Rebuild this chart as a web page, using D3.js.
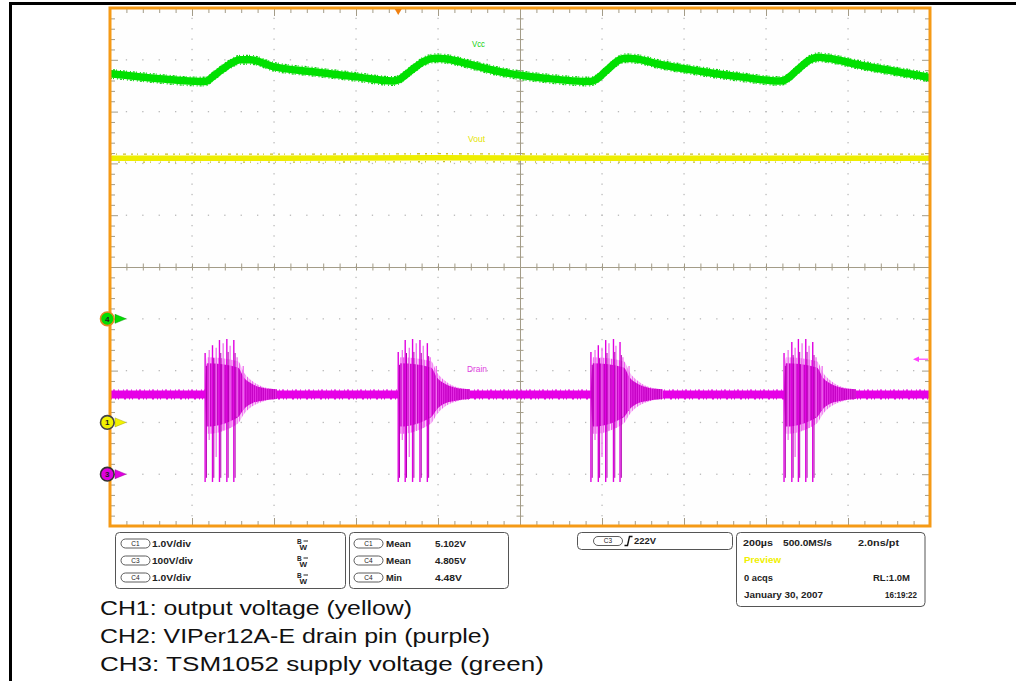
<!DOCTYPE html>
<html><head><meta charset="utf-8">
<script src="https://cdn.jsdelivr.net/npm/d3@7"></script>
<style>body{margin:0;background:#fff}svg{display:block}text{font-family:"Liberation Sans",Arial,sans-serif}</style>
</head><body><svg id="c" width="1016" height="681"></svg>
<script>
// ---------------- DATA ----------------
// time in microseconds across the 10-division screen (200 us/div)
const vccTime  = [0,100,220,232,256,293,317,342,398,495,602,690,702,732,768,793,817,878,951,1066,1171,1183,1212,1239,1256,1281,1342,1439,1537,1634,1646,1676,1707,1727,1751,1829,1927,1995,2000];
const vccVolts = [4.73,4.65,4.58,4.58,4.71,4.92,5.00,5.00,4.87,4.77,4.67,4.59,4.61,4.78,4.98,5.03,5.02,4.91,4.77,4.64,4.58,4.61,4.80,4.98,5.03,5.02,4.91,4.78,4.67,4.59,4.61,4.80,5.00,5.05,5.03,4.90,4.76,4.66,4.65];
const voutTime  = [0,400,800,1200,1600,2000];
const voutVolts = [5.10,5.10,5.11,5.10,5.10,5.10];
const drainBaseTime  = [0,2000];
const drainBaseVolts = [154,154];
// drain bursts: main switching spikes (absolute time, top volts, bottom volts)
const spikeTimes = [[232,250,267,285,302],[703,720,738,756,774],[1173,1191,1209,1228,1244],[1644,1663,1679,1697,1714]];
const spikeTops  = [[234,249,259,261,259],[236,259,261,259,253],[236,249,259,261,255],[234,255,261,261,255]];
const spikeBottom = -15;
// ringing envelope after each burst start (relative time, top/bottom volts)
const ringTime   = [0,5,80,95,115,140,175];
const ringTop    = [160,214,206,186,174,167,164];
const ringBottom = [150,92,110,126,137,142,145];
const ringOuterTop    = [160,226,218,196,180,169,164];
const ringOuterBottom = [150,78,98,116,131,140,145];
// lighter secondary spikes inside each burst (relative time)
const subTime   = [10,27,44,61,78,93];
const subTop    = [240,244,253,248,226,209];
const subBottom = [66,33,85,89,111,124];
const triggerTime = 703, triggerLevel = 222;
// channel settings: name, ground position (div), volts/div
const chNames = ["1","3","4"];
const chPos   = [-3,-4,-1];
const chVdiv  = [1.0,100,1.0];
// readouts
const scaleLabels = ["C1","C3","C4"], scaleTexts = ["1.0V/div","100V/div","1.0V/div"];
const measCh = ["C1","C4","C4"], measName = ["Mean","Mean","Min"], measVal = ["5.102V","4.805V","4.48V"];
const captions = ["CH1: output voltage (yellow)","CH2: VIPer12A-E drain pin (purple)","CH3: TSM1052 supply voltage (green)"];

// ---------------- SCALES ----------------
const svg = d3.select('#c');
const PX0=110, PX1=930, PY0=8, PY1=526;
const x = d3.scaleLinear().domain([0,2000]).range([PX0,PX1]);
const yDiv = d3.scaleLinear().domain([-5,5]).range([PY1,PY0]);
const chY = i => v => yDiv(chPos[i] + v/chVdiv[i]);
const yC1 = chY(0), yC3 = chY(1), yC4 = chY(2);

// stripe pattern for dense ringing
const defs = svg.append('defs');
const pat = defs.append('pattern').attr('id','ring').attr('width',2.2).attr('height',10).attr('patternUnits','userSpaceOnUse');
pat.append('rect').attr('width',2.2).attr('height',10).attr('fill','#c400c4');
pat.append('rect').attr('width',0.9).attr('height',10).attr('fill','#e830e8');
const pat2 = defs.append('pattern').attr('id','ringO').attr('width',2.6).attr('height',10).attr('patternUnits','userSpaceOnUse');
pat2.append('rect').attr('width',2.6).attr('height',10).attr('fill','#fbe0fb');
pat2.append('rect').attr('width',1.1).attr('height',10).attr('fill','#ee55ee');

// outer frame (cropped table border)
svg.append('rect').attr('x',9).attr('y',2).attr('width',1007).attr('height',3).attr('fill','#000');
svg.append('rect').attr('x',9).attr('y',2).attr('width',3).attr('height',679).attr('fill','#000');

// plot background
svg.append('rect').attr('x',PX0).attr('y',PY0).attr('width',PX1-PX0).attr('height',PY1-PY0).attr('fill','#fefefe');

// ---------------- GRID ----------------
const gridCol = '#b9b9b9', tickCol = '#a39c88';
const dots = [];
d3.range(200,2000,200).filter(t=>t!==1000).forEach(t=>d3.range(-4.8,4.81,0.2).forEach(d=>dots.push([x(t),yDiv(d)])));
d3.range(-4,4.01,1).filter(d=>d!==0).forEach(d=>d3.range(40,1961,40).forEach(t=>dots.push([x(t),yDiv(d)])));
svg.append('g').selectAll('rect').data(dots).join('rect')
  .attr('x',d=>d[0]-0.6).attr('y',d=>d[1]-0.6).attr('width',1.3).attr('height',1.3).attr('fill',gridCol);

const tMinor = d3.range(0,2000.1,40), dMinor = d3.range(-5,5.001,0.2);
function styleAxis(g){ g.selectAll('.domain').attr('stroke',tickCol).attr('stroke-width',1); g.selectAll('line').attr('stroke',tickCol); g.selectAll('text').remove(); }
// centre cross
svg.append('g').attr('transform',`translate(0,${yDiv(0)})`).call(d3.axisBottom(x).tickValues(tMinor).tickSize(3.5).tickSizeOuter(0)).call(styleAxis);
svg.append('g').attr('transform',`translate(0,${yDiv(0)})`).call(d3.axisTop(x).tickValues(tMinor).tickSize(3.5).tickSizeOuter(0)).call(styleAxis);
svg.append('g').attr('transform',`translate(${x(1000)},0)`).call(d3.axisLeft(yDiv).tickValues(dMinor).tickSize(3.5).tickSizeOuter(0)).call(styleAxis);
svg.append('g').attr('transform',`translate(${x(1000)},0)`).call(d3.axisRight(yDiv).tickValues(dMinor).tickSize(3.5).tickSizeOuter(0)).call(styleAxis);
// edge ticks
function edge(axis, tr){ svg.append('g').attr('transform',tr).call(axis.tickSizeOuter(0)).call(g=>{g.select('.domain').remove(); g.selectAll('line').attr('stroke',tickCol); g.selectAll('text').remove();}); }
const isMajT = t => Math.abs(t/200-Math.round(t/200))<1e-6, isMajD = d => Math.abs(d-Math.round(d))<1e-6;
edge(d3.axisBottom(x).tickValues(tMinor.filter(t=>!isMajT(t))).tickSize(5), `translate(0,${PY0})`);
edge(d3.axisBottom(x).tickValues(tMinor.filter(isMajT)).tickSize(8), `translate(0,${PY0})`);
edge(d3.axisTop(x).tickValues(tMinor.filter(t=>!isMajT(t))).tickSize(5), `translate(0,${PY1})`);
edge(d3.axisTop(x).tickValues(tMinor.filter(isMajT)).tickSize(8), `translate(0,${PY1})`);
edge(d3.axisRight(yDiv).tickValues(dMinor.filter(d=>!isMajD(d))).tickSize(5), `translate(${PX0},0)`);
edge(d3.axisRight(yDiv).tickValues(dMinor.filter(isMajD)).tickSize(8), `translate(${PX0},0)`);
edge(d3.axisLeft(yDiv).tickValues(dMinor.filter(d=>!isMajD(d))).tickSize(5), `translate(${PX1},0)`);
edge(d3.axisLeft(yDiv).tickValues(dMinor.filter(isMajD)).tickSize(8), `translate(${PX1},0)`);

// ---------------- TRACES ----------------
const zip = (a,b)=>a.map((v,i)=>[v,b[i]]);
const tr = svg.append('g');
function band(pts, yf, col, w, fringeCol, off, dash, curve){
  const ln = d3.line().x(d=>x(d[0])).y(d=>yf(d[1])).curve(curve||d3.curveLinear);
  [-off,off].forEach((o,k)=>tr.append('path').attr('d',ln(pts)).attr('transform',`translate(0,${o})`)
     .attr('fill','none').attr('stroke',fringeCol).attr('stroke-width',1.3).attr('stroke-dasharray',dash[k]));
  tr.append('path').attr('d',ln(pts)).attr('fill','none').attr('stroke',col).attr('stroke-width',w).attr('stroke-linejoin','round');
}
// Vout (yellow)
band(zip(voutTime,voutVolts), yC1, '#eeee00', 5.5, '#c9bd2a', 4, ['2 4 1 6 3 5','1 7 2 5 1 9']);
// Vcc (green)
band(zip(vccTime,vccVolts), yC4, '#00e000', 7.5, '#10d010', 4.3, ['1 2 2 1 1 3','2 1 1 3 1 2'], d3.curveMonotoneX);
// Drain baseline
band(zip(drainBaseTime,drainBaseVolts), yC3, '#e600e6', 8, '#e600e6', 4.3, ['1 2 2 3 1 4','2 3 1 2 1 5']);
// bursts
const ringArea = d3.area().x(d=>x(d[0])).y0(d=>yC3(d[2])).y1(d=>yC3(d[1])).curve(d3.curveMonotoneX);
spikeTimes.forEach((ts,b)=>{
  const t0 = ts[0];
  tr.append('path').attr('d',ringArea(ringTime.map((t,i)=>[t0+t, ringOuterTop[i], ringOuterBottom[i]]))).attr('fill','url(#ringO)');
  tr.append('path').attr('d',ringArea(ringTime.map((t,i)=>[t0+t, ringTop[i], ringBottom[i]]))).attr('fill','url(#ring)');
  subTime.forEach((t,i)=>tr.append('line').attr('x1',x(t0+t)).attr('x2',x(t0+t)).attr('y1',yC3(subTop[i])).attr('y2',yC3(subBottom[i]))
     .attr('stroke','#f070f0').attr('stroke-width',1.3));
  ts.forEach((t,i)=>{
    tr.append('line').attr('x1',x(t)).attr('x2',x(t)).attr('y1',yC3(spikeTops[b][i])).attr('y2',yC3(spikeBottom))
      .attr('stroke','#e000e0').attr('stroke-width',1.4);
    tr.append('line').attr('x1',x(t)+1.3).attr('x2',x(t)+1.3).attr('y1',yC3(spikeTops[b][i]-25)).attr('y2',yC3(spikeBottom+8))
      .attr('stroke','#b000b0').attr('stroke-width',1);
  });
});

// trace labels
svg.append('text').attr('x',472).attr('y',47).attr('font-size',8.5).attr('fill','#10d010').attr('textLength',13).attr('lengthAdjust','spacingAndGlyphs').text('Vcc');
svg.append('text').attr('x',468).attr('y',142).attr('font-size',8.5).attr('fill','#e4e400').attr('textLength',17).attr('lengthAdjust','spacingAndGlyphs').text('Vout');
svg.append('text').attr('x',467).attr('y',372).attr('font-size',8.5).attr('fill','#e040e0').attr('textLength',20).attr('lengthAdjust','spacingAndGlyphs').text('Drain');

// orange screen border
svg.append('rect').attr('x',PX0).attr('y',PY0).attr('width',PX1-PX0).attr('height',PY1-PY0).attr('fill','none').attr('stroke','#f59a16').attr('stroke-width',3);
// trigger position marker
const tx = x(triggerTime);
svg.append('path').attr('d',`M${tx-3.5},${PY0+1}L${tx+3.5},${PY0+1}L${tx},${PY0+7}Z`).attr('fill','#f08010');
// trigger level arrow (C3)
const ty = yC3(triggerLevel);
svg.append('line').attr('x1',PX1-11).attr('x2',PX1-2).attr('y1',ty).attr('y2',ty).attr('stroke','#ff40ff').attr('stroke-width',1.2);
svg.append('path').attr('d',`M${PX1-17},${ty}L${PX1-11},${ty-2.8}L${PX1-11},${ty+2.8}Z`).attr('fill','#ff40ff');

// channel ground markers
const chFill = ['#f2f200','#e000e0','#00dd00'], chStroke = ['#444','#333','#e08a20'];
chNames.forEach((n,i)=>{
  const cy = yDiv(chPos[i]);
  svg.append('path').attr('d',`M115,${cy-4.5}L126,${cy}L115,${cy+4.5}Z`).attr('fill',chFill[i]).attr('stroke',d3.color(chFill[i]).darker(1)).attr('stroke-width',0.5);
  svg.append('circle').attr('cx',107.3).attr('cy',cy).attr('r',6.8).attr('fill',chFill[i]).attr('stroke',chStroke[i]).attr('stroke-width',1.6);
  svg.append('text').attr('x',107.3).attr('y',cy+3).attr('text-anchor','middle').attr('font-size',8).attr('font-weight','bold').attr('fill','#222').text(n);
});

// ---------------- READOUT BOXES ----------------
const rb = svg.append('g');
function box(x0,y0,w,h){ rb.append('rect').attr('x',x0).attr('y',y0).attr('width',w).attr('height',h).attr('rx',4).attr('fill','#fff').attr('stroke','#555').attr('stroke-width',1); }
function pill(cx,cy,label){
  rb.append('rect').attr('x',cx-14.5).attr('y',cy-4.5).attr('width',29).attr('height',9).attr('rx',4.5).attr('fill','#fff').attr('stroke','#333').attr('stroke-width',0.8);
  rb.append('text').attr('x',cx).attr('y',cy+2.4).attr('text-anchor','middle').attr('font-size',6.5).attr('fill','#222').text(label);
}
function bt(x0,y,s,len,col,anchor){ const t=rb.append('text').attr('x',x0).attr('y',y).attr('font-size',9).attr('font-weight','bold').attr('fill',col||'#222').attr('text-anchor',anchor||'start').text(s); if(len) t.attr('textLength',len).attr('lengthAdjust','spacingAndGlyphs'); return t; }
const rowY = [543.5,560.5,577.5];
box(115.5,532.5,230,56);
scaleLabels.forEach((c,i)=>{
  pill(135.5,rowY[i],c); bt(152,rowY[i]+3.2,scaleTexts[i], scaleTexts[i]==='100V/div'?41:39);
  rb.append('text').attr('x',297).attr('y',rowY[i]+0.5).attr('font-size',6.5).attr('font-weight','bold').attr('fill','#222').text('B');
  rb.append('text').attr('x',299.5).attr('y',rowY[i]+6.5).attr('font-size',8).attr('font-weight','bold').attr('fill','#222').text('W');
  rb.append('line').attr('x1',303.5).attr('x2',308).attr('y1',rowY[i]-2.5).attr('y2',rowY[i]-2.5).attr('stroke','#222').attr('stroke-width',1);
});
box(349.5,532.5,159,56);
measCh.forEach((c,i)=>{
  pill(368.5,rowY[i],c); bt(386,rowY[i]+3.2,measName[i], measName[i]==='Min'?16:25); bt(435,rowY[i]+3.2,measVal[i], measVal[i].length===5?27:31);
});
box(577.5,532.5,155,17);
pill(608,541,'C3');
rb.append('path').attr('d','M624.5,545.5L627.5,545.5L629.5,536.5L632.5,536.5').attr('fill','none').attr('stroke','#111').attr('stroke-width',1.4);
bt(634,544.3,'222V',22);
box(736.5,532.5,188.5,74);
const r4 = [542.5,560,577.5,595];
bt(743,r4[0]+3.2,'200µs',30); bt(783,r4[0]+3.2,'500.0MS/s',49); bt(858,r4[0]+3.2,'2.0ns/pt',41);
bt(744,r4[1]+3.2,'Preview',37,'#f0f000');
bt(744,r4[2]+3.2,'0 acqs',29); bt(873,r4[2]+3.2,'RL:1.0M',37);
bt(744,r4[3]+3.2,'January 30, 2007',79); bt(885,r4[3]+3.2,'16:19:22',32);

// ---------------- CAPTIONS ----------------
const capLen = [312,390,444], capY = [614.5,642.5,670.5];
captions.forEach((c,i)=>svg.append('text').attr('x',100).attr('y',capY[i]).attr('font-size',20.5).attr('fill','#111')
  .attr('textLength',capLen[i]).attr('lengthAdjust','spacingAndGlyphs').text(c));
</script></body></html>
